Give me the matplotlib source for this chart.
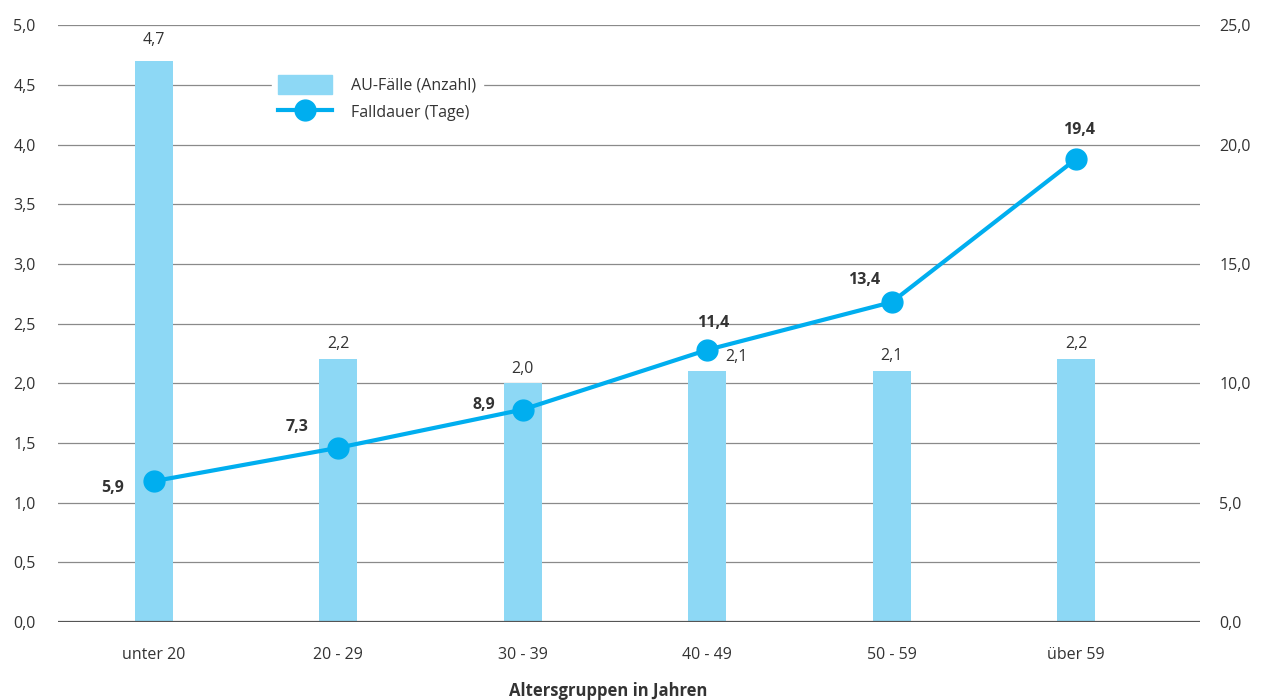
import numpy as np
import matplotlib.pyplot as plt
from matplotlib.patches import Patch
from matplotlib.lines import Line2D

plt.rcParams['font.family'] = ['Open Sans', 'DejaVu Sans']

# Data
gruppen = ["unter 20", "20 - 29", "30 - 39", "40 - 49", "50 - 59", "über 59"]
au_faelle = [4.7, 2.2, 2.0, 2.1, 2.1, 2.2]
falldauer = [5.9, 7.3, 8.9, 11.4, 13.4, 19.4]

# label offsets (points) for the values
bar_offsets = [(0, 15), (0, 11), (0, 10), (21, 10), (0, 11), (0, 11)]
line_offsets = [(-30, -5), (-30, 15), (-28, 3), (4, 19), (-20, 16), (2, 21)]

bar_col = "#8DD8F5"
line_col = "#00AEEF"
text_col = "#333333"

fig = plt.figure(figsize=(12.75, 7), dpi=100)
ax = fig.add_axes([0.0455, 0.1114, 0.8955, 0.8526])
ax2 = ax.twinx()

x = np.arange(len(gruppen))
ax.bar(x, au_faelle, width=0.206, color=bar_col, zorder=2)
for xi, v, (dx, dy) in zip(x, au_faelle, bar_offsets):
    ax.annotate(f"{v:.1f}".replace(".", ","), (xi, v), xytext=(dx, dy),
                textcoords="offset points", ha="center", va="center",
                fontsize=11.5, color=text_col)

ax.set_ylim(0, 5)
ax.set_yticks(np.arange(0, 5.01, 0.5))
ax.set_yticklabels([f"{t:.1f}".replace(".", ",") for t in np.arange(0, 5.01, 0.5)])
ax.set_xlim(-0.52, 5.67)
ax.set_xticks(x)
ax.set_xticklabels(gruppen)
ax.grid(axis="y", color="#8a8a8a", linewidth=0.9, zorder=0)
ax.set_axisbelow(True)
for s in ax.spines.values():
    s.set_visible(False)
ax.axhline(0, color="#555555", linewidth=1.6, zorder=3)
ax.tick_params(axis="both", length=0, labelsize=11.5, colors=text_col)
ax.tick_params(axis="x", pad=18)
ax.tick_params(axis="y", pad=16)
ax.set_xlabel("Altersgruppen in Jahren", fontsize=12, fontweight="bold",
              color=text_col, labelpad=16)
ax.xaxis.set_label_coords(0.4816, -0.1)

ax2.plot(x, falldauer, color=line_col, linewidth=3, marker="o", markersize=15,
         zorder=4)
for xi, v, (dx, dy) in zip(x, falldauer, line_offsets):
    ax2.annotate(f"{v:.1f}".replace(".", ","), (xi, v), xytext=(dx, dy),
                 textcoords="offset points", ha="center", va="center",
                 fontsize=11.5, fontweight="bold", color=text_col)
ax2.set_ylim(0, 25)
ax2.set_yticks(np.arange(0, 25.1, 5))
ax2.set_yticklabels([f"{t:.1f}".replace(".", ",") for t in np.arange(0, 25.1, 5)])
ax2.tick_params(axis="y", length=0, labelsize=11.5, colors=text_col, pad=14)
for s in ax2.spines.values():
    s.set_visible(False)

# legend
handles = [Patch(color=bar_col, label="AU-Fälle (Anzahl)"),
           Line2D([], [], color=line_col, linewidth=3, marker="o", markersize=15,
                  label="Falldauer (Tage)")]
leg = ax2.legend(handles=handles, loc="upper left", bbox_to_anchor=(0.18, 0.94),
                 frameon=True, facecolor="white", edgecolor="white", framealpha=1,
                 fontsize=11.5, handlelength=3.4, handleheight=1.4,
                 handletextpad=1.2, labelspacing=0.55)
for t in leg.get_texts():
    t.set_color(text_col)

fig.savefig("out.png", dpi=100)
